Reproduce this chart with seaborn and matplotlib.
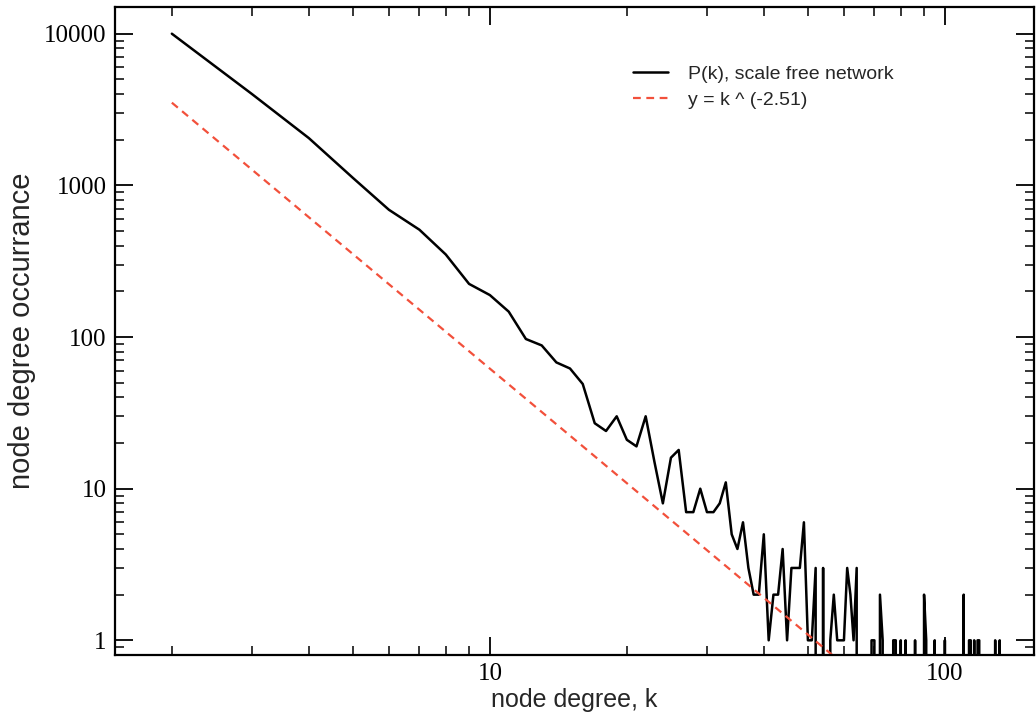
import matplotlib
matplotlib.use('Agg')
import matplotlib.pyplot as plt
import matplotlib.ticker as mticker
import seaborn as sns
import pandas as pd

# node degree k and how often it occurs
degree = list(range(2, 134))
occurrence = [
    10000, 4000, 2050, 1120, 690, 510, 350, 224, 189,      # k = 2..10
    147, 97, 88, 68, 62, 49, 27, 24, 30, 21,               # 11..20
    19, 30, 15, 8, 16, 18, 7, 7, 10, 7,                    # 21..30
    7, 8, 11, 5, 4, 6, 3, 2, 2, 5,                         # 31..40
    1, 2, 2, 4, 1, 3, 3, 3, 6, 1,                          # 41..50
    1, 3, 0, 3, 0, 1, 2, 1, 1, 1,                          # 51..60
    3, 2, 1, 3, 0, 0, 0, 0, 1, 1,                          # 61..70
    0, 2, 1, 0, 0, 0, 1, 1, 0, 1,                          # 71..80
    0, 1, 0, 0, 0, 1, 0, 0, 0, 2,                          # 81..90
    1, 0, 0, 0, 1, 0, 0, 0, 0, 1,                          # 91..100
    0, 0, 0, 0, 0, 0, 0, 0, 0, 2,                          # 101..110
    0, 0, 1, 1, 0, 1, 0, 1, 1, 0,                          # 111..120
    0, 0, 0, 0, 0, 0, 0, 0, 1, 0,                          # 121..130
    0, 1, 0,                                               # 131..133
]

# power law fit, straight line in log-log space (end points)
fit_k = [2, 60]
fit_y = [3510, 0.69]

sns.set_style('ticks')
plt.rcParams['font.family'] = ['Liberation Serif', 'DejaVu Serif']

fig = plt.figure(figsize=(10.36, 7.18), dpi=100)
ax = fig.add_axes([115 / 1036, 63 / 718, 919 / 1036, 648 / 718])

df = pd.DataFrame({'k': degree, 'count': occurrence})
sns.lineplot(data=df, x='k', y='count', ax=ax, color='black', lw=1.8,
             estimator=None, sort=False, errorbar=None,
             label='P(k), scale free network')
sns.lineplot(x=fit_k, y=fit_y, ax=ax, color='#f2503b', lw=1.6,
             linestyle=(0, (3.5, 2.5)), estimator=None, errorbar=None,
             label='y = k ^ (-2.51)')

ax.set_xscale('log')
ax.set_yscale('log')
ax.set_xlim(1.5, 157)
ax.set_ylim(0.8, 15000)

ax.xaxis.set_major_locator(mticker.FixedLocator([10, 100]))
ax.yaxis.set_major_locator(mticker.FixedLocator([1, 10, 100, 1000, 10000]))
ax.xaxis.set_minor_locator(mticker.LogLocator(base=10, subs=range(2, 10), numticks=20))
ax.yaxis.set_minor_locator(mticker.LogLocator(base=10, subs=range(2, 10), numticks=20))
fmt = mticker.FuncFormatter(lambda v, _: f'{v:g}')
ax.xaxis.set_major_formatter(fmt)
ax.yaxis.set_major_formatter(fmt)
ax.xaxis.set_minor_formatter(mticker.NullFormatter())
ax.yaxis.set_minor_formatter(mticker.NullFormatter())

ax.tick_params(which='both', direction='in', top=True, right=True, colors='black')
ax.tick_params(which='major', length=13, width=1.3, labelsize=18, pad=6)
ax.tick_params(which='minor', length=6.5, width=1.1)
for side in ax.spines.values():
    side.set_linewidth(1.6)
    side.set_color('black')

ax.set_xlabel('node degree, k', fontsize=18, family='Liberation Sans', labelpad=2)
ax.set_ylabel('node degree occurrance', fontsize=21, family='Liberation Sans')
ax.yaxis.set_label_coords(-0.086, 0.5)

ax.legend(loc='upper left', bbox_to_anchor=(0.564, 0.910), frameon=False,
          prop={'family': 'Liberation Sans', 'size': 14},
          handlelength=1.8, handletextpad=1.0, labelspacing=0.45,
          borderpad=0, borderaxespad=0)

fig.savefig('out.png', dpi=100)
